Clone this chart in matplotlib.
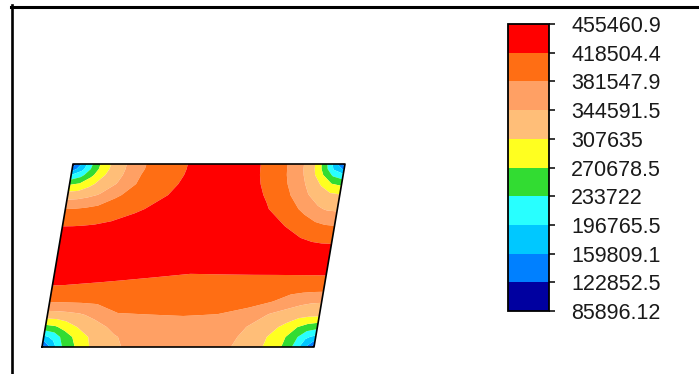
import numpy as np
import matplotlib
matplotlib.use("Agg")
import matplotlib.pyplot as plt
from matplotlib.lines import Line2D

# contour levels shown on the colour bar
levels = [85896.12, 122852.5, 159809.1, 196765.5, 233722, 270678.5,
          307635, 344591.5, 381547.9, 418504.4, 455460.9]
level_labels = ["85896.12", "122852.5", "159809.1", "196765.5", "233722",
                "270678.5", "307635", "344591.5", "381547.9", "418504.4",
                "455460.9"]
band_colors = ["#0000a0", "#0080ff", "#00c8ff", "#28ffff", "#32dc32",
               "#ffff20", "#ffbe78", "#ffa064", "#ff6e14", "#ff0000"]

# plate grid: position along the plate (s) and height above the bottom edge (t)
s_vals = [0, 10, 20, 32, 48, 70, 100, 136, 170, 200, 222, 240, 252, 262, 272]
t_vals = [0, 10, 20, 32, 46, 62, 80, 100, 120, 138, 152, 163, 172, 178, 183]
plate_shift = 31  # how far the top edge sits to the right of the bottom edge

# field values in thousands, one row per t, bottom row first
field_k = [
    [100, 177, 233.7, 268.9, 309.6, 338.8, 357.6, 355, 357.5, 337.0, 305.2, 268.4, 225.9, 169.0, 100],
    [186.4, 207.8, 248.4, 279.6, 315.4, 341.2, 364.9, 363.5, 364.7, 339.2, 309.5, 275.9, 240.8, 203.9, 186.4],
    [258.1, 265.8, 285.0, 308.3, 329.3, 354.6, 372.2, 372.1, 372.0, 345.4, 323.2, 297.9, 271.2, 255.2, 246.9],
    [327.6, 329.0, 333.0, 339.3, 354.2, 380.0, 381.1, 382.4, 380.9, 374.0, 340.6, 328.2, 320.6, 316.2, 314.6],
    [385.9, 386.6, 387.3, 388.1, 389.3, 390.8, 392.9, 395.4, 391.7, 388.4, 384.2, 364.2, 355.0, 350.6, 349.0],
    [419.4, 418.7, 418.0, 417.2, 416.2, 414.7, 412.6, 410.2, 409.0, 408.0, 407.2, 406.6, 406.2, 405.8, 405.5],
    [435, 434.2, 433.3, 432.3, 431.0, 429.1, 426.6, 423.6, 425.2, 426.6, 427.4, 428.2, 428.7, 429.2, 430],
    [440, 439.6, 439.3, 438.8, 438.2, 437.4, 436.3, 435, 435.5, 435.9, 436.3, 430.1, 426.9, 425.3, 424.7],
    [419.8, 420.1, 421.0, 422.7, 426.3, 433.1, 440, 440, 440, 433.9, 419.8, 404.7, 394.0, 387.1, 384.5],
    [381.5, 382.8, 386.3, 392.4, 401.9, 413.9, 428.7, 447, 445.8, 422.2, 398.6, 371.0, 349.6, 340.6, 338.4],
    [325.3, 328.2, 335.4, 347.3, 375.2, 398.9, 418.3, 440.5, 441.9, 414.5, 382.8, 346.3, 327.7, 315.4, 310.6],
    [266.0, 274.2, 297.1, 322.2, 346.9, 388.1, 413.0, 435.8, 439, 409.7, 375.2, 334.7, 302.6, 271.8, 262.8],
    [196.8, 221.6, 260.4, 302.9, 337.0, 381.7, 410.1, 433.4, 437.5, 407.2, 371.2, 325.7, 271.2, 226.8, 206.9],
    [140.2, 184.9, 240.9, 294.5, 333.5, 378.7, 409.1, 432.5, 437, 406.4, 369.8, 321.4, 256.4, 191.6, 152.5],
    [100, 170.1, 233.7, 292.1, 332.6, 377.9, 408.8, 432.3, 436.8, 406.1, 369.4, 320.2, 250.7, 179.0, 100],
]

plt.rcParams['font.family'] = ['Liberation Sans', 'DejaVu Sans']

W, H = 699, 374
fig = plt.figure(figsize=(W / 100, H / 100), dpi=100)

# plate
S, T = np.meshgrid(s_vals, t_vals)
X = S + T * plate_shift / t_vals[-1]
Z = np.array(field_k) * 1000

width = s_vals[-1] + plate_shift
ax = fig.add_axes([42 / W, 27 / H, width / W, t_vals[-1] / H])
cs = ax.contourf(X, T, Z, levels=levels, colors=band_colors, antialiased=True)
ax.set_xlim(0, width)
ax.set_ylim(0, t_vals[-1])
ax.axis('off')

# outline of the plate
s0, s1, t0, t1 = s_vals[0], s_vals[-1], t_vals[0], t_vals[-1]
ox = [s0, s1, s1 + plate_shift, s0 + plate_shift, s0]
oy = [t0, t0, t1, t1, t0]
ax.plot(ox, oy, color='black', lw=1.2, clip_on=False)

# colour bar
cax = fig.add_axes([508 / W, 63 / H, 41 / W, 287 / H])
cb = fig.colorbar(cs, cax=cax, ticks=levels)
cb.set_ticklabels(level_labels)
cb.outline.set_linewidth(1.3)
cax.tick_params(length=4, width=1.1, pad=12, labelsize=15.5, labelcolor='#1a1a1a')

# frame lines along the top and left
fig.add_artist(Line2D([11 / W, 1], [1 - 6.5 / H, 1 - 6.5 / H], color='black', lw=2.2))
fig.add_artist(Line2D([12 / W, 12 / W], [0, 1 - 5 / H], color='black', lw=1.9))

fig.savefig("out.png", dpi=100)
